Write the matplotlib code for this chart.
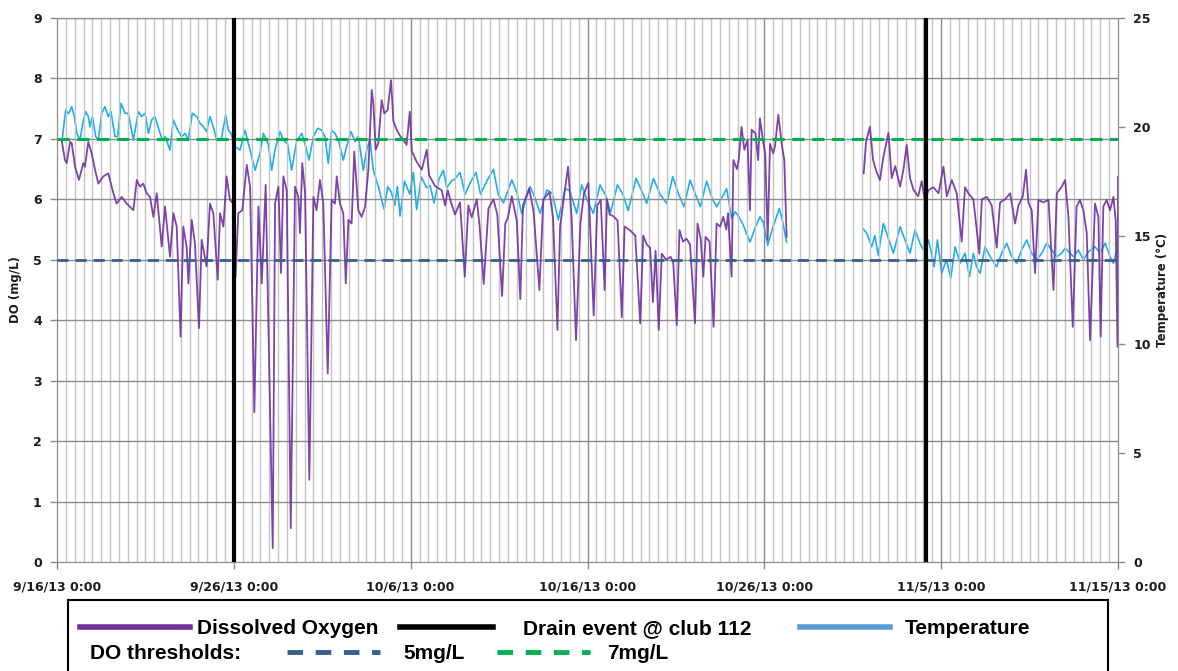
import numpy as np
import matplotlib
matplotlib.use("Agg")
import matplotlib.pyplot as plt
from matplotlib.lines import Line2D
from matplotlib.patches import Rectangle

# ---------------- data (x in days since 9/16/13 0:00) ----------------
do_days_1 = [0.25, 0.45, 0.55, 0.74, 0.83, 1.02, 1.24, 1.49, 1.58, 1.77, 1.96, 2.15, 2.34, 2.62, 2.90, 3.19, 3.37, 3.66, 3.94, 4.32,
             4.51, 4.69, 4.88, 5.07, 5.26, 5.45, 5.64, 5.92, 6.11, 6.39, 6.58, 6.77, 6.99, 7.14, 7.33, 7.43, 7.62, 7.80, 8.03, 8.18,
             8.46, 8.65, 8.84, 9.09, 9.22, 9.41, 9.59, 9.78, 9.97, 10.1, 10.25, 10.48, 10.73, 10.92, 11.16, 11.39, 11.58, 11.8, 12.2, 12.33,
             12.52, 12.67, 12.8, 12.99, 13.22, 13.46, 13.65, 13.74, 13.87, 14.03, 14.27, 14.5, 14.68, 14.87, 15.06, 15.31, 15.53, 15.72, 15.82, 16.0,
             16.19, 16.33, 16.48, 16.66, 16.81, 17.04, 17.23, 17.42, 17.61, 17.8, 17.89, 18.02, 18.17, 18.36, 18.51, 18.7, 18.89, 19.02, 19.21, 19.4,
             19.59, 19.77, 19.95, 20.06, 20.34, 20.63, 20.91, 21.04, 21.38, 21.75, 21.95, 22.1, 22.3, 22.51, 22.79, 23.06, 23.26, 23.45, 23.74, 23.9,
             24.13, 24.4, 24.68, 24.9, 25.17, 25.35, 25.5, 25.72, 26.0, 26.2, 26.35, 26.7, 26.95, 27.28, 27.5, 27.85, 28.05, 28.3, 28.45, 28.65,
             28.9, 29.1, 29.35, 29.6, 29.8, 30.05, 30.35, 30.55, 30.75, 30.97, 31.1, 31.25, 31.47, 31.7, 31.94, 32.1, 32.4, 32.7, 32.98, 33.15,
             33.35, 33.54, 33.7, 33.85, 34.03, 34.2, 34.45, 34.7, 34.85, 35.05, 35.2, 35.4, 35.6, 35.8, 36.08, 36.22, 36.4, 36.55, 36.68, 36.9,
             37.13, 37.3, 37.5, 37.68, 37.85, 37.95, 38.15, 38.25, 38.45, 38.55, 38.71, 38.87, 39.05, 39.19, 39.28, 39.5, 39.65, 39.75, 39.95, 40.05,
             40.19, 40.32, 40.5, 40.6, 40.79, 40.98, 41.13, 41.26]
do_vals_1 = [7.0, 6.65, 6.6, 6.95, 6.93, 6.54, 6.32, 6.6, 6.54, 6.95, 6.76, 6.49, 6.26, 6.38, 6.43, 6.1, 5.93, 6.04, 5.93, 5.82,
             6.32, 6.21, 6.26, 6.1, 6.04, 5.71, 6.1, 5.22, 5.88, 5.05, 5.77, 5.55, 3.73, 5.55, 5.22, 4.61, 5.66, 5.27, 3.87, 5.33,
             4.89, 5.93, 5.77, 4.67, 5.77, 5.55, 6.38, 5.99, 5.93, 4.72, 5.77, 5.82, 6.57, 6.21, 2.48, 5.88, 4.61, 6.24, 0.23, 5.93,
             6.21, 4.78, 6.38, 6.15, 0.56, 6.21, 6.04, 5.44, 6.6, 6.1, 1.36, 6.04, 5.82, 6.32, 5.93, 3.12, 5.99, 5.93, 6.38, 5.93,
             5.77, 4.61, 5.66, 5.6, 6.79, 5.82, 5.71, 5.88, 6.49, 7.81, 7.59, 6.82, 6.93, 7.64, 7.42, 7.48, 7.97, 7.3, 7.15, 7.05,
             6.98, 6.9, 7.45, 6.8, 6.62, 6.49, 6.82, 6.4, 6.22, 6.15, 5.9, 6.15, 5.93, 5.75, 5.95, 4.72, 5.9, 5.7, 6.0, 5.55,
             4.6, 5.85, 6.0, 5.75, 4.4, 5.6, 5.7, 6.05, 5.65, 4.35, 5.9, 6.18, 5.8, 4.5, 6.0, 6.12, 5.7, 3.84, 5.55, 5.99,
             6.54, 5.7, 3.67, 5.6, 6.1, 6.27, 4.08, 5.9, 5.99, 4.5, 6.0, 5.75, 5.72, 5.65, 4.05, 5.55, 5.49, 5.4, 3.95, 5.4,
             5.25, 5.2, 4.3, 5.15, 3.84, 5.1, 5.0, 5.05, 4.95, 3.92, 5.49, 5.3, 5.35, 5.25, 3.95, 5.6, 5.35, 4.72, 5.38, 5.3,
             3.89, 5.6, 5.55, 5.71, 5.5, 5.77, 4.72, 6.65, 6.5, 6.65, 7.2, 6.82, 6.98, 5.82, 7.15, 7.09, 6.65, 7.34, 6.92, 6.76,
             5.33, 6.92, 6.76, 6.87, 7.4, 6.92, 6.65, 5.38]

do_days_2 = [45.62, 45.75, 45.97, 46.15, 46.35, 46.54, 46.73, 47.02, 47.2, 47.4, 47.68, 47.87, 48.05, 48.24, 48.43, 48.7, 48.9, 49.09, 49.28, 49.56,
             49.85, 50.13, 50.32, 50.6, 50.88, 51.16, 51.35, 51.54, 51.82, 52.16, 52.3, 52.58, 52.86, 53.14, 53.33, 53.61, 53.9, 54.18, 54.37, 54.61,
             54.8, 54.93, 55.12, 55.31, 55.5, 55.78, 56.07, 56.35, 56.54, 56.82, 57.01, 57.2, 57.44, 57.66, 57.85, 58.04, 58.23, 58.42, 58.7, 58.89,
             59.02, 59.17, 59.36, 59.55, 59.74, 59.87, 59.97, 60.0]
do_vals_2 = [6.43, 6.95, 7.2, 6.65, 6.45, 6.32, 6.7, 7.1, 6.35, 6.55, 6.21, 6.5, 6.9, 6.35, 6.16, 6.05, 6.3, 5.96, 6.15, 6.2,
             6.1, 6.54, 6.05, 6.32, 6.1, 5.3, 6.2, 6.1, 6.0, 5.1, 6.0, 6.04, 5.9, 5.2, 5.95, 6.0, 6.1, 5.6, 5.9, 6.04,
             6.49, 5.95, 5.82, 4.78, 5.99, 5.95, 5.99, 4.5, 6.1, 6.21, 6.32, 5.7, 3.89, 5.88, 5.99, 5.82, 5.45, 3.67, 5.93, 5.71,
             3.73, 5.88, 5.99, 5.82, 6.04, 5.65, 3.56, 6.37]

tmp_days_1 = [0.3, 0.49, 0.65, 0.83, 0.98, 1.12, 1.3, 1.49, 1.62, 1.77, 1.87, 2.0, 2.19, 2.34, 2.53, 2.71, 2.9, 3.05, 3.28, 3.43,
              3.62, 3.85, 4.03, 4.32, 4.6, 4.79, 4.98, 5.17, 5.35, 5.54, 5.77, 5.96, 6.11, 6.39, 6.58, 6.82, 7.05, 7.24, 7.43, 7.65,
              7.9, 8.09, 8.28, 8.46, 8.65, 8.84, 9.03, 9.28, 9.54, 9.69, 9.84, 10.07, 10.35, 10.63, 10.92, 11.2, 11.48, 11.67, 11.95, 12.14,
              12.33, 12.61, 12.8, 13.04, 13.27, 13.55, 13.84, 14.06, 14.25, 14.5, 14.74, 14.96, 15.15, 15.34, 15.53, 15.72, 15.91, 16.19, 16.38, 16.63,
              16.85, 17.04, 17.32, 17.51, 17.7, 17.89, 18.17, 18.5, 18.7, 18.9, 19.1, 19.25, 19.4, 19.65, 19.95, 20.15, 20.34, 20.6, 20.9, 21.1,
              21.32, 21.6, 21.85, 22.04, 22.3, 22.5, 22.79, 23.08, 23.35, 23.7, 23.95, 24.3, 24.68, 24.95, 25.25, 25.72, 26.0, 26.28, 26.75, 27.0,
              27.32, 27.7, 28.0, 28.35, 28.73, 29.0, 29.39, 29.67, 30.0, 30.33, 30.71, 31.05, 31.3, 31.69, 32.0, 32.3, 32.75, 33.15, 33.35, 33.73,
              34.1, 34.48, 34.82, 35.15, 35.46, 35.8, 36.15, 36.38, 36.74, 37.05, 37.3, 37.5, 37.87, 38.15, 38.35, 38.55, 38.8, 39.19, 39.45, 39.75,
              39.95, 40.19, 40.45, 40.85, 41.05, 41.26]
tmp_vals_1 = [19.47, 20.77, 20.6, 20.92, 20.47, 19.7, 19.39, 20.3, 20.7, 20.47, 20.0, 20.47, 19.55, 19.4, 20.62, 20.92, 20.47, 20.7, 19.55, 19.55,
              21.08, 20.62, 20.62, 19.39, 20.7, 20.47, 20.62, 19.7, 20.31, 20.47, 19.85, 19.39, 19.55, 18.93, 20.31, 19.85, 19.55, 19.7, 19.39, 20.62,
              20.47, 20.16, 20.0, 19.78, 20.47, 20.0, 19.39, 19.39, 20.54, 19.85, 19.7, 19.09, 18.93, 19.85, 18.93, 18.0, 18.78, 19.7, 19.2, 18.0,
              18.93, 19.78, 19.39, 19.2, 18.0, 19.32, 19.7, 19.09, 18.47, 19.55, 19.93, 19.85, 19.55, 18.32, 19.85, 19.7, 19.39, 18.47, 19.09, 19.78,
              19.32, 19.55, 18.0, 18.93, 19.39, 18.0, 17.25, 16.2, 17.25, 17.0, 16.4, 17.25, 15.9, 17.5, 16.9, 17.9, 16.2, 17.7, 17.2, 17.3,
              16.5, 17.6, 18.0, 17.2, 17.5, 17.6, 17.9, 16.9, 17.4, 17.9, 16.9, 17.5, 18.05, 16.9, 16.5, 17.56, 17.0, 16.02, 17.25, 16.8,
              16.02, 17.1, 16.95, 15.72, 17.17, 17.05, 16.02, 17.33, 16.6, 16.02, 17.33, 16.8, 16.05, 17.33, 16.9, 16.15, 17.63, 16.9, 16.48, 17.63,
              16.9, 16.48, 17.71, 16.9, 16.33, 17.56, 16.8, 16.33, 17.5, 16.7, 16.33, 16.6, 17.15, 15.8, 16.1, 15.87, 15.5, 14.7, 15.3, 15.87,
              15.6, 14.55, 15.3, 16.25, 15.6, 14.7]

tmp_days_2 = [45.6, 45.8, 46.07, 46.25, 46.44, 46.73, 47.0, 47.3, 47.68, 47.95, 48.24, 48.52, 48.8, 49.09, 49.28, 49.45, 49.6, 49.79, 50.03, 50.3,
              50.54, 50.79, 51.07, 51.35, 51.6, 51.82, 52.0, 52.2, 52.48, 52.77, 53.14, 53.42, 53.71, 53.99, 54.27, 54.55, 54.84, 55.12, 55.4, 55.69,
              55.97, 56.25, 56.54, 56.82, 57.01, 57.29, 57.48, 57.76, 58.04, 58.33, 58.7, 58.99, 59.27, 59.55, 59.74, 59.93]
tmp_vals_2 = [15.3, 15.1, 14.49, 15.0, 14.1, 15.56, 14.9, 14.19, 15.41, 14.8, 14.19, 15.26, 14.65, 14.19, 14.8, 14.2, 13.57, 14.8, 13.27, 13.9,
              13.04, 14.49, 13.73, 14.19, 13.11, 14.19, 13.57, 13.27, 14.49, 14.03, 13.57, 14.19, 14.65, 14.03, 13.73, 14.34, 14.8, 14.19, 13.88, 14.19,
              14.65, 14.34, 14.03, 14.19, 14.42, 14.19, 14.03, 14.34, 13.88, 14.26, 14.49, 14.19, 14.65, 14.03, 13.73, 14.34]

drain_days = [10.0, 49.12]
thresholds = [5.0, 7.0]
x_tick_days = [0, 10, 20, 30, 40, 50, 60]
x_tick_labels = ["9/16/13 0:00", "9/26/13 0:00", "10/6/13 0:00", "10/16/13 0:00",
                 "10/26/13 0:00", "11/5/13 0:00", "11/15/13 0:00"]
do_ticks = [0, 1, 2, 3, 4, 5, 6, 7, 8, 9]
temp_ticks = [0, 5, 10, 15, 20, 25]

# ---------------- styling ----------------
C_DO = "#7030A0"
C_TMP = "#1CB0EE"
C_TMP_LEG = "#5B9BD5"
C_5 = "#35608F"
C_7 = "#00B04F"
C_MINOR = "#C4C4C4"
C_MAJOR = "#8C8C8C"
C_TXT = "#1C1C1C"

W, H = 1178, 671
fig = plt.figure(figsize=(W / 100, H / 100), dpi=100)
ax = fig.add_axes([57 / W, 1 - 562 / H, (1118 - 57) / W, (562 - 18) / H])
ax2 = ax.twinx()

ax.set_xlim(0, 60)
ax.set_ylim(0, 9)
ax2.set_ylim(0, 25)

# grid
for d in np.arange(0.5, 60, 0.5):
    if abs(d - round(d / 10) * 10) < 1e-9:
        continue
    ax.axvline(d, color=C_MINOR, lw=1.0, zorder=0)
for d in x_tick_days[1:-1]:
    ax.axvline(d, color=C_MAJOR, lw=1.0, zorder=0.5)
for v in do_ticks[1:]:
    ax.axhline(v, color=C_MAJOR, lw=1.0, zorder=0.5)

# series
do_x = do_days_1 + [np.nan] + do_days_2
do_y = do_vals_1 + [np.nan] + do_vals_2
tmp_x = tmp_days_1 + [np.nan] + tmp_days_2
tmp_y = tmp_vals_1 + [np.nan] + tmp_vals_2

ax2.plot(tmp_x, tmp_y, color=C_TMP, lw=1.2, zorder=3)
ax.plot(do_x, do_y, color=C_DO, lw=1.3, zorder=2, alpha=0.9)
ax.axhline(thresholds[0], color=C_5, lw=2.0, ls=(0, (4, 2.5)), zorder=4)
ax.axhline(thresholds[1], color=C_7, lw=2.2, ls=(0, (4, 2.5)), zorder=4)
for d in drain_days:
    ax.axvline(d, color="black", lw=3.0, zorder=5)

ax.set_zorder(ax2.get_zorder() + 1)
ax.patch.set_visible(False)

# ticks
ax.set_xticks(x_tick_days)
ax.set_xticklabels(x_tick_labels)
ax.set_yticks(do_ticks)
ax2.set_yticks(temp_ticks)
for a in (ax, ax2):
    a.tick_params(axis="both", colors=C_MAJOR, labelcolor=C_TXT, labelsize=9, length=5, width=1, direction="out")
    for lab in a.get_xticklabels() + a.get_yticklabels():
        lab.set_fontweight("bold")
    for s in a.spines.values():
        s.set_color(C_MAJOR)
ax.tick_params(axis="x", pad=8)
ax.tick_params(axis="y", pad=6)
ax2.tick_params(axis="y", pad=6)

ax.set_ylabel("DO (mg/L)", fontsize=8.5, fontweight="bold", color=C_TXT, labelpad=8)
ax2.set_ylabel("Temperature (\u00b0C)", fontsize=8.5, fontweight="bold", color=C_TXT, labelpad=4)

# legend box (manual)
fig.patches.append(Rectangle((68 / W, -0.02), (1108 - 68) / W, 1 - 600 / H + 0.02,
                             transform=fig.transFigure, fill=False, ec="black", lw=1.5))
lf = dict(fontsize=15, fontweight="bold", family="Liberation Sans", color="black", va="baseline")
r1 = 1 - 627 / H
r2 = 1 - 652 / H
b1 = 1 - 634 / H
b2 = 1 - 659 / H
def seg(x0, x1, y, **kw):
    fig.add_artist(Line2D([x0 / W, x1 / W], [y, y], transform=fig.transFigure, **kw))
seg(80, 190, r1, color=C_DO, lw=4)
fig.text(197 / W, b1, "Dissolved Oxygen", **lf)
seg(400, 493, r1, color="black", lw=4)
fig.text(523 / W, b1, "Drain event @ club 112", **lf)
seg(800, 890, r1, color=C_TMP_LEG, lw=4)
fig.text(905 / W, b1, "Temperature", **lf)
fig.text(90 / W, b2, "DO thresholds:", **lf)
seg(287, 380, r2, color=C_5, lw=3.5, ls=(0, (3.2, 2.6)))
fig.text(403 / W, b2, "5mg/L", **lf)
seg(497, 590, r2, color=C_7, lw=3.5, ls=(0, (3.2, 2.6)))
fig.text(607 / W, b2, "7mg/L", **lf)

fig.savefig("out.png", dpi=100)
